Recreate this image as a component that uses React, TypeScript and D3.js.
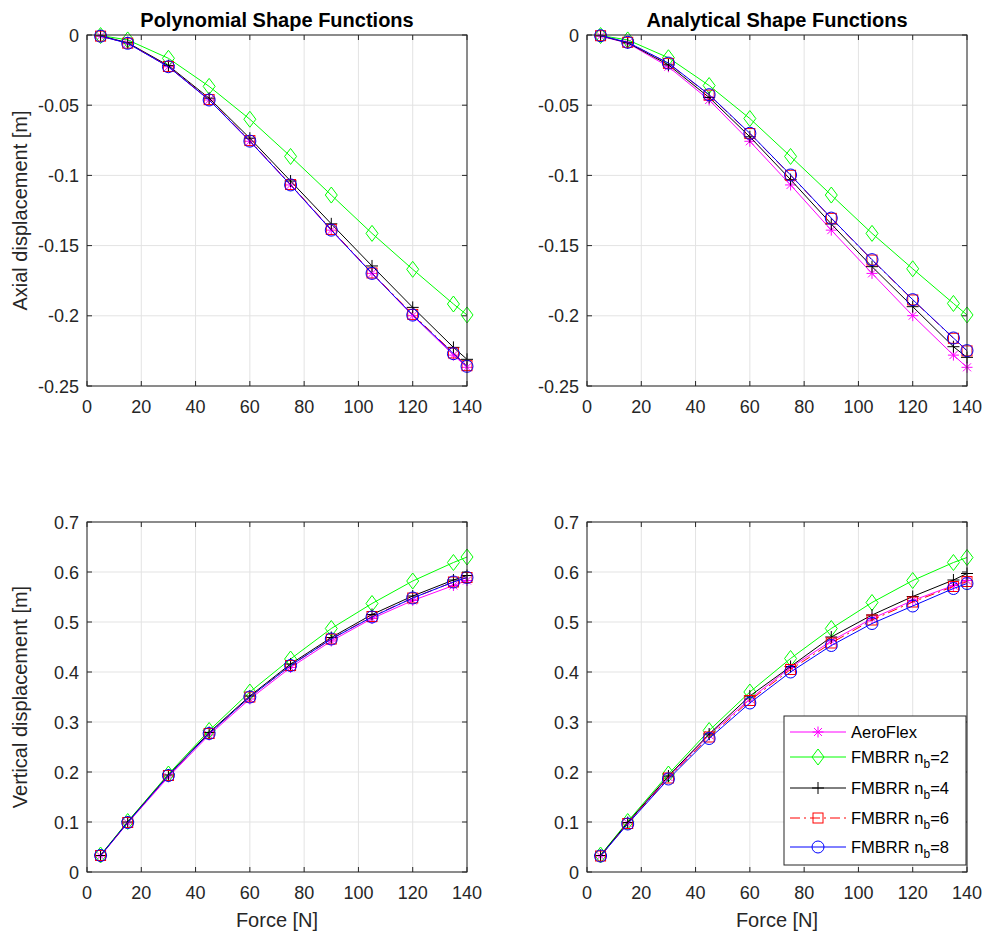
import React from "react";
import * as d3 from "d3";

const forces = [5, 15, 30, 45, 60, 75, 90, 105, 120, 135, 140];
const xTicks = [0, 20, 40, 60, 80, 100, 120, 140];
const axialTicks = [0, -0.05, -0.1, -0.15, -0.2, -0.25];
const vertTicks = [0, 0.1, 0.2, 0.3, 0.4, 0.5, 0.6, 0.7];

const seriesNames = ["AeroFlex", "FMBRR n_b=2", "FMBRR n_b=4", "FMBRR n_b=6", "FMBRR n_b=8"];

const axialAeroFlex = [-0.0008, -0.0058, -0.0226, -0.0463, -0.0757, -0.1068, -0.139, -0.1698, -0.1999, -0.228, -0.2367];
const axialPolyN2 = [-0.0004, -0.0035, -0.0166, -0.0366, -0.06, -0.0865, -0.114, -0.1413, -0.1669, -0.1916, -0.1994];
const axialPolyN4 = [-0.0006, -0.0055, -0.0218, -0.045, -0.0735, -0.104, -0.1345, -0.1645, -0.194, -0.2225, -0.231];
const axialPolyN6 = [-0.0008, -0.0058, -0.0224, -0.046, -0.0752, -0.1065, -0.1385, -0.1695, -0.199, -0.2265, -0.2355];
const axialPolyN8 = [-0.0008, -0.0059, -0.0226, -0.0463, -0.0756, -0.1068, -0.139, -0.1698, -0.1995, -0.227, -0.236];
const axialAnaN2 = [-0.0004, -0.0035, -0.0162, -0.036, -0.0595, -0.0865, -0.114, -0.1413, -0.1665, -0.1912, -0.1994];
const axialAnaN4 = [-0.0006, -0.0055, -0.0213, -0.0445, -0.0725, -0.103, -0.1346, -0.165, -0.1935, -0.222, -0.2296];
const axialAnaN6 = [-0.0005, -0.0052, -0.0202, -0.0428, -0.0702, -0.0999, -0.1306, -0.1603, -0.1887, -0.216, -0.225];
const axialAnaN8 = [-0.0005, -0.0052, -0.02, -0.0425, -0.07, -0.0997, -0.1304, -0.16, -0.1885, -0.2158, -0.2248];

const vertAeroFlex = [0.032, 0.098, 0.19, 0.274, 0.346, 0.409, 0.462, 0.507, 0.543, 0.573, 0.583];
const vertPolyN2 = [0.034, 0.101, 0.196, 0.283, 0.36, 0.426, 0.487, 0.537, 0.582, 0.619, 0.63];
const vertPolyN4 = [0.033, 0.1, 0.194, 0.279, 0.352, 0.416, 0.469, 0.515, 0.552, 0.584, 0.593];
const vertPolyN6 = [0.033, 0.099, 0.193, 0.277, 0.35, 0.413, 0.466, 0.511, 0.548, 0.58, 0.589];
const vertPolyN8 = [0.033, 0.099, 0.193, 0.277, 0.35, 0.413, 0.466, 0.51, 0.548, 0.58, 0.589];
const vertAnaN2 = [0.034, 0.101, 0.196, 0.283, 0.36, 0.427, 0.487, 0.539, 0.583, 0.619, 0.629];
const vertAnaN4 = [0.033, 0.099, 0.192, 0.276, 0.352, 0.411, 0.47, 0.514, 0.551, 0.584, 0.597];
const vertAnaN6 = [0.032, 0.097, 0.188, 0.27, 0.343, 0.405, 0.458, 0.504, 0.54, 0.571, 0.581];
const vertAnaN8 = [0.032, 0.096, 0.186, 0.267, 0.338, 0.4, 0.453, 0.497, 0.532, 0.567, 0.577];

const FONT = "'Liberation Sans', Arial, Helvetica, sans-serif";
const AX = "#262626";
const GRID = "#e3e3e3";

const styles = [
  { color: "#ff00ff", marker: "asterisk", dash: "" },
  { color: "#00ff00", marker: "diamond", dash: "" },
  { color: "#000000", marker: "plus", dash: "" },
  { color: "#ff0000", marker: "square", dash: "10,4,2,4" },
  { color: "#0000ff", marker: "circle", dash: "" },
];

function Marker({ type, x, y, color }: { type: string; x: number; y: number; color: string }) {
  const sw = 1;
  if (type === "asterisk") {
    const r = 5.5, d = 4;
    return (
      <path
        d={`M${x - r},${y}H${x + r}M${x},${y - r}V${y + r}M${x - d},${y - d}L${x + d},${y + d}M${x - d},${y + d}L${x + d},${y - d}`}
        stroke={color} strokeWidth={sw} fill="none"
      />
    );
  }
  if (type === "diamond") {
    const w = 6, h = 8;
    return <path d={`M${x},${y - h}L${x + w},${y}L${x},${y + h}L${x - w},${y}Z`} stroke={color} strokeWidth={sw} fill="none" />;
  }
  if (type === "plus") {
    const r = 6;
    return <path d={`M${x - r},${y}H${x + r}M${x},${y - r}V${y + r}`} stroke={color} strokeWidth={sw} fill="none" />;
  }
  if (type === "square") {
    const r = 5;
    return <rect x={x - r} y={y - r} width={2 * r} height={2 * r} stroke={color} strokeWidth={sw} fill="none" />;
  }
  return <circle cx={x} cy={y} r={6} stroke={color} strokeWidth={sw} fill="none" />;
}

type PanelProps = {
  left: number; right: number; top: number; bottom: number;
  domain: [number, number]; yTicks: number[]; series: number[][];
  title?: string; ylabel?: string; xlabel?: string;
};

const fmt = (v: number) => String(+v.toFixed(2));

function Panel(p: PanelProps) {
  const x = d3.scaleLinear().domain([0, 140]).range([p.left, p.right]);
  const y = d3.scaleLinear().domain(p.domain).range([p.bottom, p.top]);
  const line = d3.line<number>().x((_, i) => x(forces[i])).y((d) => y(d));
  const tl = 5;
  const cx = (p.left + p.right) / 2;
  return (
    <g>
      <rect x={p.left} y={p.top} width={p.right - p.left} height={p.bottom - p.top} fill="#fff" />
      {xTicks.map((t) => (
        <line key={"gx" + t} x1={x(t)} x2={x(t)} y1={p.top} y2={p.bottom} stroke={GRID} strokeWidth={1} />
      ))}
      {p.yTicks.map((t) => (
        <line key={"gy" + t} x1={p.left} x2={p.right} y1={y(t)} y2={y(t)} stroke={GRID} strokeWidth={1} />
      ))}
      {p.series.map((s, k) => (
        <g key={"s" + k}>
          <path d={line(s) || ""} fill="none" stroke={styles[k].color} strokeWidth={1} strokeDasharray={styles[k].dash} />
          {s.map((v, i) => (
            <Marker key={i} type={styles[k].marker} x={x(forces[i])} y={y(v)} color={styles[k].color} />
          ))}
        </g>
      ))}
      <rect x={p.left} y={p.top} width={p.right - p.left} height={p.bottom - p.top} fill="none" stroke={AX} strokeWidth={1} />
      {xTicks.map((t) => (
        <g key={"tx" + t}>
          <line x1={x(t)} x2={x(t)} y1={p.bottom} y2={p.bottom - tl} stroke={AX} />
          <line x1={x(t)} x2={x(t)} y1={p.top} y2={p.top + tl} stroke={AX} />
          <text x={x(t)} y={p.bottom + 27} textAnchor="middle" fontSize={18} fill={AX} fontFamily={FONT}>{t}</text>
        </g>
      ))}
      {p.yTicks.map((t) => (
        <g key={"ty" + t}>
          <line x1={p.left} x2={p.left + tl} y1={y(t)} y2={y(t)} stroke={AX} />
          <line x1={p.right} x2={p.right - tl} y1={y(t)} y2={y(t)} stroke={AX} />
          <text x={p.left - 8} y={y(t) + 6.5} textAnchor="end" fontSize={18} fill={AX} fontFamily={FONT}>{fmt(t)}</text>
        </g>
      ))}
      {p.title && (
        <text x={cx} y={27} textAnchor="middle" fontSize={20} fontWeight="bold" fill="#000" fontFamily={FONT}>{p.title}</text>
      )}
      {p.xlabel && (
        <text x={cx} y={p.bottom + 55} textAnchor="middle" fontSize={20} fill={AX} fontFamily={FONT}>{p.xlabel}</text>
      )}
      {p.ylabel && (
        <text transform={`translate(${p.left - 60},${(p.top + p.bottom) / 2}) rotate(-90)`} textAnchor="middle" fontSize={20} fill={AX} fontFamily={FONT}>{p.ylabel}</text>
      )}
    </g>
  );
}

function Legend() {
  const lx = 784, ly = 716, w = 182, h = 149;
  const rows = [732, 757, 788, 818, 847];
  return (
    <g>
      <rect x={lx} y={ly} width={w} height={h} fill="#fff" stroke={AX} strokeWidth={1} />
      {seriesNames.map((name, k) => {
        const yy = rows[k];
        const parts = name.split("n_b");
        return (
          <g key={k}>
            <line x1={790} x2={846} y1={yy} y2={yy} stroke={styles[k].color} strokeWidth={1} strokeDasharray={styles[k].dash} />
            <Marker type={styles[k].marker} x={818} y={yy} color={styles[k].color} />
            <text x={851} y={yy + 6} fontSize={16.5} fill="#000" fontFamily={FONT}>
              {parts.length === 1 ? name : (
                <>
                  {parts[0]}n
                  <tspan fontSize={12} dy={5}>b</tspan>
                  <tspan dy={-5}>{parts[1]}</tspan>
                </>
              )}
            </text>
          </g>
        );
      })}
    </g>
  );
}

export default function App() {
  const topY: [number, number] = [35, 386];
  const botY: [number, number] = [522, 872];
  return (
    <svg width={986} height={938} style={{ position: "absolute", left: 0, top: 0, background: "#fff" }}>
      <rect width={986} height={938} fill="#fff" />
      <Panel left={87} right={467} top={topY[0]} bottom={topY[1]} domain={[-0.25, 0]} yTicks={axialTicks}
        series={[axialAeroFlex, axialPolyN2, axialPolyN4, axialPolyN6, axialPolyN8]}
        title="Polynomial Shape Functions" ylabel="Axial displacement [m]" />
      <Panel left={587} right={967} top={topY[0]} bottom={topY[1]} domain={[-0.25, 0]} yTicks={axialTicks}
        series={[axialAeroFlex, axialAnaN2, axialAnaN4, axialAnaN6, axialAnaN8]}
        title="Analytical Shape Functions" />
      <Panel left={87} right={467} top={botY[0]} bottom={botY[1]} domain={[0, 0.7]} yTicks={vertTicks}
        series={[vertAeroFlex, vertPolyN2, vertPolyN4, vertPolyN6, vertPolyN8]}
        ylabel="Vertical displacement [m]" xlabel="Force [N]" />
      <Panel left={587} right={967} top={botY[0]} bottom={botY[1]} domain={[0, 0.7]} yTicks={vertTicks}
        series={[vertAeroFlex, vertAnaN2, vertAnaN4, vertAnaN6, vertAnaN8]}
        xlabel="Force [N]" />
      <Legend />
    </svg>
  );
}
